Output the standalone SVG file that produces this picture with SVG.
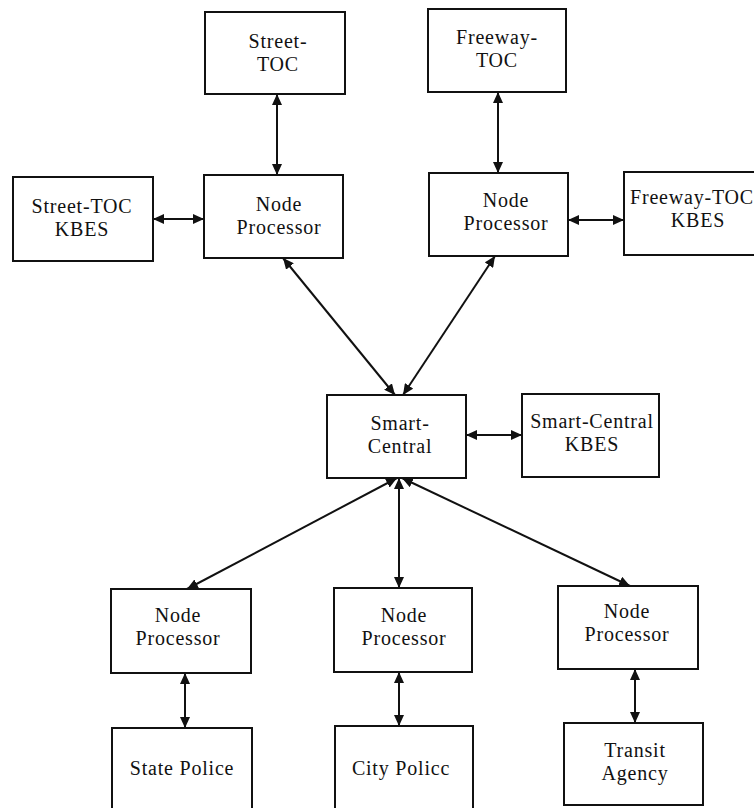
<svg xmlns="http://www.w3.org/2000/svg" width="754" height="808" viewBox="0 0 754 808">
<defs>
<style>
.box{fill:#fff;stroke:#111;stroke-width:2}
.t{font-family:"Liberation Serif","Times New Roman",serif;font-size:20px;fill:#111;text-anchor:middle;letter-spacing:0.8px}
.c{stroke:#111;stroke-width:2;fill:none;marker-start:url(#ah);marker-end:url(#ah)}
</style>
<marker id="ah" markerUnits="userSpaceOnUse" markerWidth="12" markerHeight="10" refX="11" refY="5" orient="auto-start-reverse">
<path d="M0,0 L11,5 L0,10 z" fill="#111"/>
</marker>
</defs>
<rect width="754" height="808" fill="#fff"/>
<g id="connectors">
<line class="c" x1="277" y1="94" x2="277" y2="175"/>
<line class="c" x1="153" y1="219" x2="204" y2="219"/>
<line class="c" x1="498" y1="92" x2="498" y2="173"/>
<line class="c" x1="568" y1="220" x2="624" y2="220"/>
<line class="c" x1="283" y1="258" x2="395" y2="395"/>
<line class="c" x1="495" y1="256" x2="403" y2="395"/>
<line class="c" x1="466" y1="435" x2="522" y2="435"/>
<line class="c" x1="397" y1="478" x2="187" y2="589"/>
<line class="c" x1="399" y1="478" x2="399" y2="588"/>
<line class="c" x1="402" y1="478" x2="630" y2="586"/>
<line class="c" x1="185" y1="673" x2="185" y2="728"/>
<line class="c" x1="399" y1="672" x2="399" y2="726"/>
<line class="c" x1="635" y1="669" x2="635" y2="723"/>
</g>
<g id="street_toc"><rect class="box" x="205" y="12" width="140" height="82"/><text class="t" x="278" y="48">Street-</text><text class="t" x="278" y="71">TOC</text></g>
<g id="street_np"><rect class="box" x="204" y="175" width="139" height="83"/><text class="t" x="279" y="211">Node</text><text class="t" x="279" y="234">Processor</text></g>
<g id="street_kbes"><rect class="box" x="13" y="177" width="140" height="84"/><text class="t" x="82" y="213">Street-TOC</text><text class="t" x="82" y="236">KBES</text></g>
<g id="freeway_toc"><rect class="box" x="428" y="9" width="138" height="83"/><text class="t" x="497" y="44">Freeway-</text><text class="t" x="497" y="67">TOC</text></g>
<g id="freeway_np"><rect class="box" x="429" y="173" width="139" height="83"/><text class="t" x="506" y="207">Node</text><text class="t" x="506" y="230">Processor</text></g>
<g id="freeway_kbes"><rect class="box" x="624" y="172" width="145" height="83"/><text class="t" x="630" y="204" style="text-anchor:start">Freeway-TOC</text><text class="t" x="698" y="227">KBES</text></g>
<g id="smart_central"><rect class="box" x="327" y="395" width="139" height="83"/><text class="t" x="400" y="430">Smart-</text><text class="t" x="400" y="453">Central</text></g>
<g id="smart_kbes"><rect class="box" x="522" y="394" width="137" height="83"/><text class="t" x="592" y="428">Smart-Central</text><text class="t" x="592" y="451">KBES</text></g>
<g id="np_left"><rect class="box" x="111" y="589" width="140" height="84"/><text class="t" x="178" y="622">Node</text><text class="t" x="178" y="645">Processor</text></g>
<g id="np_mid"><rect class="box" x="334" y="588" width="138" height="84"/><text class="t" x="404" y="622">Node</text><text class="t" x="404" y="645">Processor</text></g>
<g id="np_right"><rect class="box" x="558" y="586" width="140" height="83"/><text class="t" x="627" y="618">Node</text><text class="t" x="627" y="641">Processor</text></g>
<g id="state_police"><rect class="box" x="112" y="728" width="140" height="95"/><text class="t" x="182" y="775">State Police</text></g>
<g id="city_police"><rect class="box" x="335" y="726" width="138" height="95"/><text class="t" x="401" y="775">City Policc</text></g>
<g id="transit"><rect class="box" x="564" y="723" width="139" height="82"/><text class="t" x="635" y="757">Transit</text><text class="t" x="635" y="780">Agency</text></g>
</svg>
